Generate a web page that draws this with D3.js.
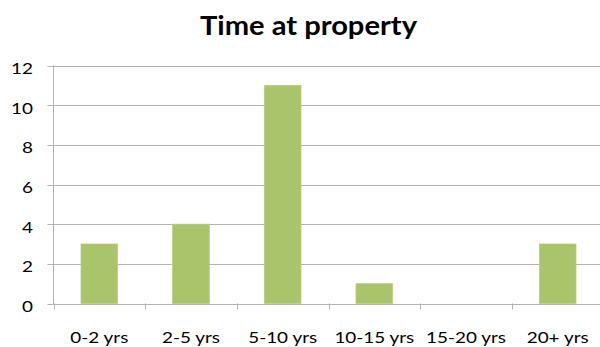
<!DOCTYPE html>
<html>
<head>
<meta charset="utf-8">
<script src="https://cdn.jsdelivr.net/npm/d3@7"></script>
<style>
  html, body { margin: 0; padding: 0; background: #fff; overflow: hidden; }
  svg { display: block; }
</style>
</head>
<body>
<svg id="chart" width="600" height="347"></svg>
<script>
// Time at property: number of respondents per tenure band
const categories = ["0-2 yrs", "2-5 yrs", "5-10 yrs", "10-15 yrs", "15-20 yrs", "20+ yrs"];
const counts = [3, 4, 11, 1, 0, 3];
const yTicks = [0, 2, 4, 6, 8, 10, 12];
const title = "Time at property";

const svg = d3.select("#chart");
const font = "Lato, 'Open Sans', 'DejaVu Sans', sans-serif";
const stretch = 1.22; // horizontal widening of the label glyphs

const plotLeft = 53.5, plotRight = 603.5, plotTop = 65.5, plotBottom = 303.5;

const x = d3.scaleBand().domain(categories).range([plotLeft, plotRight]).paddingInner(0.6).paddingOuter(0.3);
const band = d3.scaleBand().domain(categories).range([plotLeft, plotRight]);
const y = d3.scaleLinear().domain([0, 12]).range([plotBottom, plotTop]);

// Title
svg.append("text")
  .attr("x", 200).attr("y", 35)
  .attr("font-family", font)
  .attr("font-weight", "bold")
  .attr("font-size", 26)
  .attr("textLength", 217)
  .attr("lengthAdjust", "spacingAndGlyphs")
  .attr("fill", "#000")
  .text(title);

// Horizontal gridlines with left tick stubs
svg.append("g").selectAll("line").data(yTicks).join("line")
  .attr("x1", plotLeft - 6).attr("x2", 600)
  .attr("y1", d => Math.round(y(d)) + 0.5).attr("y2", d => Math.round(y(d)) + 0.5)
  .attr("stroke", "#b3b3b3").attr("stroke-width", 1);

// Y axis line
svg.append("line")
  .attr("x1", plotLeft).attr("x2", plotLeft)
  .attr("y1", y(12)).attr("y2", plotBottom + 0.5)
  .attr("stroke", "#b3b3b3");

// Category tick marks below the baseline
svg.append("g").selectAll("line").data(d3.range(categories.length + 1)).join("line")
  .attr("x1", i => Math.round(plotLeft + band.step() * i) + 0.5)
  .attr("x2", i => Math.round(plotLeft + band.step() * i) + 0.5)
  .attr("y1", plotBottom).attr("y2", plotBottom + 6)
  .attr("stroke", "#b3b3b3");

// Y tick labels
svg.append("g").selectAll("text").data(yTicks).join("text")
  .attr("transform", d => `translate(33,${y(d) + 8.5}) scale(${stretch},1)`)
  .attr("text-anchor", "end")
  .attr("font-family", font)
  .attr("font-size", 15.5)
  .attr("fill", "#000")
  .text(d => d);

// Bars
svg.append("g").selectAll("rect").data(counts).join("rect")
  .attr("x", (d, i) => x(categories[i]))
  .attr("width", x.bandwidth())
  .attr("y", d => y(d))
  .attr("height", d => plotBottom - y(d))
  .attr("fill", "#a9c46a")
  .attr("stroke", "#b8d07c")
  .attr("stroke-width", 0.8);

// X category labels
svg.append("g").selectAll("text").data(categories).join("text")
  .attr("transform", d => `translate(${band(d) + band.bandwidth() / 2},343) scale(${stretch},1)`)
  .attr("text-anchor", "middle")
  .attr("font-family", font)
  .attr("font-size", 15.5)
  .attr("fill", "#000")
  .text(d => d);
</script>
</body>
</html>
